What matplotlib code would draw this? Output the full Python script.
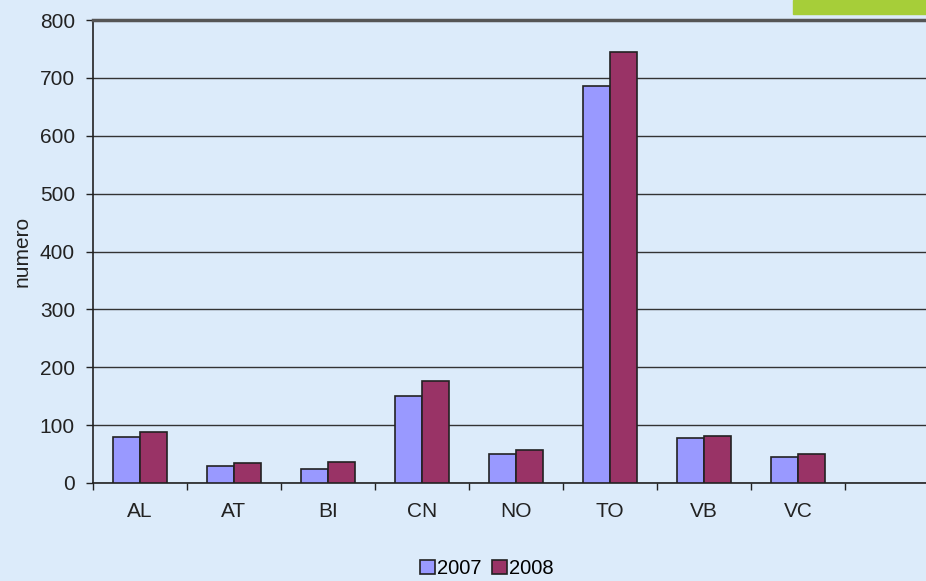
import numpy as np
import matplotlib.pyplot as plt
from matplotlib.patches import Rectangle

plt.rcParams['font.family'] = ['Liberation Sans', 'DejaVu Sans']

provinces = ['AL', 'AT', 'BI', 'CN', 'NO', 'TO', 'VB', 'VC']
years = ['2007', '2008']
values_2007 = [80, 29, 24, 150, 50, 686, 77, 45]
values_2008 = [88, 34, 36, 176, 57, 745, 82, 50]
colors = ['#9999FF', '#993366']

fig = plt.figure(figsize=(9.26, 5.81), dpi=100)
fig.patch.set_facecolor('#DCEBFA')

# green decoration in the top right corner
fig.patches.append(Rectangle((793 / 926, 1 - 14 / 581), 1, 14 / 581,
                             transform=fig.transFigure, color='#A6CE39', zorder=0))

ax = fig.add_axes([93 / 926, 98 / 581, 1 - 93 / 926, 463 / 581])
ax.set_facecolor('none')

x = np.arange(len(provinces)) + 0.5
w = 0.285
ax.bar(x - w / 2, values_2007, w, color=colors[0], edgecolor='#222222',
       linewidth=1.2, label=years[0], zorder=3)
ax.bar(x + w / 2, values_2008, w, color=colors[1], edgecolor='#222222',
       linewidth=1.2, label=years[1], zorder=3)

ax.set_yticks(range(0, 801, 100))
ax.yaxis.grid(True, color='#333333', linewidth=1.0, zorder=1)
ax.set_axisbelow(True)

ax.set_xticks(x)
ax.set_xticklabels(provinces)
ax.set_xticks(np.arange(0, 9), minor=True)
# limits after the ticks, so set_xticks does not widen them
ax.set_xlim(0, 833 / 94)
ax.set_ylim(0, 800)
ax.tick_params(axis='x', which='major', length=0, pad=14, labelsize=15, colors='#222222')
ax.tick_params(axis='x', which='minor', length=5, width=1, direction='out', color='#222222')
ax.tick_params(axis='y', length=5, width=1, direction='out', labelsize=15,
               colors='#222222', pad=8)

for s in ['left', 'bottom']:
    ax.spines[s].set_color('#222222')
    ax.spines[s].set_linewidth(1.2)
ax.spines['right'].set_visible(False)
ax.spines['top'].set_color('#555555')
ax.spines['top'].set_linewidth(2.5)

ax.set_ylabel('numero', fontsize=15, color='#222222', labelpad=6)

fig.legend(loc='lower center', bbox_to_anchor=(487 / 926, -0.026), ncol=2,
           frameon=False, fontsize=14.5, handlelength=0.75, handleheight=0.75,
           handletextpad=0.1, columnspacing=0.5)

fig.savefig('out.png', dpi=100, facecolor=fig.get_facecolor())
